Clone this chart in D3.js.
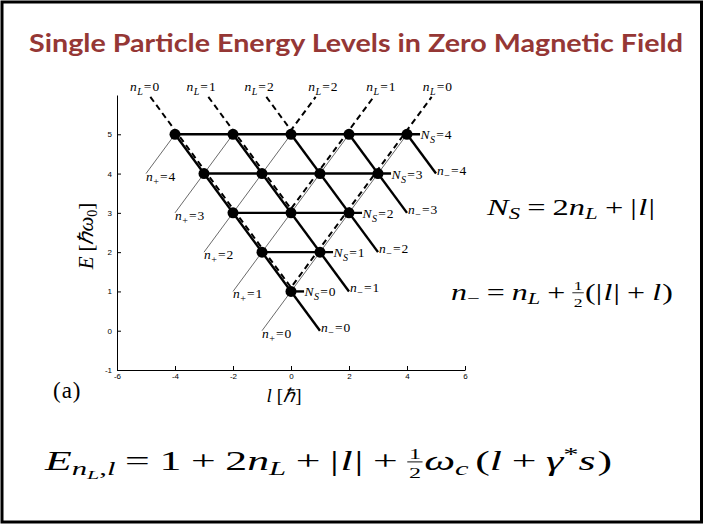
<!DOCTYPE html>
<html>
<head>
<meta charset="utf-8">
<script src="https://cdn.jsdelivr.net/npm/d3@7"></script>
<style>
  body { margin: 0; background: #fff; }
  svg { display: block; }
</style>
</head>
<body>
<div id="plot"></div>
<script>
// ---- data ----
var xTicks = [-6, -4, -2, 0, 2, 4, 6];
var yTicks = [-1, 0, 1, 2, 3, 4, 5];

// filled dots (l, E)
var dotL = [0, -1, 1, -2, 0, 2, -3, -1, 1, 3, -4, -2, 0, 2, 4];
var dotE = [1, 2, 2, 3, 3, 3, 4, 4, 4, 4, 5, 5, 5, 5, 5];

// horizontal N_S rows
var nsValues = [0, 1, 2, 3, 4];
var nsRowE = [1, 2, 3, 4, 5];
var nsStartL = [0, -1, -2, -3, -4];
var nsEndL = [0.45, 1.45, 2.45, 3.45, 4.45];

// thick n_- lines
var nMinusValues = [0, 1, 2, 3, 4];
var nMinusStartL = [-4, -2, 0, 2, 4];
var nMinusStartE = [5, 5, 5, 5, 5];
var nMinusEndL = [1, 2, 3, 4, 5];
var nMinusEndE = [0, 1, 2, 3, 4];

// thin n_+ lines
var nPlusValues = [0, 1, 2, 3, 4];
var nPlusStartL = [4, 2, 0, -2, -4];
var nPlusStartE = [5, 5, 5, 5, 5];
var nPlusEndL = [-1, -2, -3, -4, -5];
var nPlusEndE = [0, 1, 2, 3, 4];

// dashed n_L "V" lines
var nLValues = [0, 1, 2];
var nLTopL = [4.85, 2.85, 0.85];
var nLTopE = [5.85, 5.85, 5.85];
var nLVertexE = [1, 3, 5];
var nLLabelL = [5.05, 3.1, 1.1];
var nLLabelE = 6;

// ---- page ----
var W = 704, H = 527;
var svg = d3.select("#plot").append("svg")
    .attr("width", W)
    .attr("height", H);

svg.append("rect")
    .attr("x", 2).attr("y", 2)
    .attr("width", 699.5).attr("height", 520)
    .attr("fill", "#fff")
    .attr("stroke", "#000")
    .attr("stroke-width", 3);

svg.append("text")
    .attr("x", 29).attr("y", 52)
    .attr("font-family", "Lato, 'Open Sans', sans-serif")
    .attr("font-weight", "bold")
    .attr("font-size", 24)
    .attr("fill", "#953735")
    .attr("textLength", 654)
    .attr("lengthAdjust", "spacingAndGlyphs")
    .text("Single Particle Energy Levels in Zero Magnetic Field");

// ---- scales & axes ----
var x = d3.scaleLinear().domain([-6, 6]).range([117, 465]);
var y = d3.scaleLinear().domain([-1, 6]).range([370, 95]);

var xAxis = svg.append("g")
    .attr("transform", `translate(0, ${y(-1)})`)
    .call(d3.axisBottom(x).tickValues(xTicks).tickFormat(d3.format("d"))
        .tickSizeInner(-4).tickSizeOuter(0).tickPadding(3));
var yAxis = svg.append("g")
    .attr("transform", `translate(${x(-6)}, 0)`)
    .call(d3.axisLeft(y).tickValues(yTicks).tickFormat(d3.format("d"))
        .tickSizeInner(-4).tickSizeOuter(0).tickPadding(5));

[xAxis, yAxis].forEach(function (ax) {
    ax.selectAll("text")
        .attr("font-family", "'Liberation Sans', Arial, sans-serif")
        .attr("font-size", 8)
        .attr("fill", "#000")
        .text(function (d) { return d < 0 ? "-" + Math.abs(d) : d; });
    ax.select(".domain").attr("stroke-width", 1);
});

var chart = svg.append("g").attr("font-family", "'Liberation Serif', serif");

// thin n_+ lines
chart.selectAll(".nplus")
    .data(nPlusValues)
    .enter().append("line")
    .attr("x1", (d, i) => x(nPlusStartL[i]))
    .attr("y1", (d, i) => y(nPlusStartE[i]))
    .attr("x2", (d, i) => x(nPlusEndL[i]))
    .attr("y2", (d, i) => y(nPlusEndE[i]))
    .attr("stroke", "#444")
    .attr("stroke-width", 0.8);

// thick n_- lines
chart.selectAll(".nminus")
    .data(nMinusValues)
    .enter().append("line")
    .attr("x1", (d, i) => x(nMinusStartL[i]))
    .attr("y1", (d, i) => y(nMinusStartE[i]))
    .attr("x2", (d, i) => x(nMinusEndL[i]))
    .attr("y2", (d, i) => y(nMinusEndE[i]))
    .attr("stroke", "#000")
    .attr("stroke-width", 2.4);

// horizontal N_S rows
chart.selectAll(".ns")
    .data(nsValues)
    .enter().append("line")
    .attr("x1", (d, i) => x(nsStartL[i]))
    .attr("x2", (d, i) => x(nsEndL[i]))
    .attr("y1", (d, i) => y(nsRowE[i]))
    .attr("y2", (d, i) => y(nsRowE[i]))
    .attr("stroke", "#000")
    .attr("stroke-width", 2.4);

// dashed n_L lines, nudged up a little so they sit beside the solid ones
var vLine = d3.line().x(d => x(d[0])).y(d => y(d[1]));
chart.selectAll(".nl")
    .data(nLValues)
    .enter().append("path")
    .attr("transform", "translate(0,-4)")
    .attr("d", (d, i) => vLine([[-nLTopL[i], nLTopE[i]], [0, nLVertexE[i]], [nLTopL[i], nLTopE[i]]]))
    .attr("fill", "none")
    .attr("stroke", "#000")
    .attr("stroke-width", 2)
    .attr("stroke-dasharray", "6,4");

// dots
chart.selectAll("circle")
    .data(dotL)
    .enter().append("circle")
    .attr("cx", d => x(d))
    .attr("cy", (d, i) => y(dotE[i]))
    .attr("r", 5.5)
    .attr("fill", "#000");

// small "sym_sub=val" label
function subLabel(sel, sym, sub, val, fs) {
    sel.attr("font-size", fs);
    sel.append("tspan").attr("font-style", "italic").text(sym);
    sel.append("tspan").attr("font-style", sub === "L" || sub === "S" ? "italic" : "normal")
        .attr("font-size", fs * 0.75).attr("dx", 0.5).attr("dy", fs * 0.3).text(sub);
    sel.append("tspan").attr("dx", 1).attr("dy", -fs * 0.3).text("=");
    sel.append("tspan").attr("dx", 1).text(val);
}

nLValues.forEach(function (v, i) {
    [-1, 1].forEach(function (s) {
        var t = chart.append("text")
            .attr("x", x(s * nLLabelL[i]))
            .attr("y", y(nLLabelE) - 4)
            .attr("text-anchor", "middle");
        subLabel(t, "n", "L", v, 13.5);
    });
});

nsValues.forEach(function (v, i) {
    var t = chart.append("text")
        .attr("x", x(nsEndL[i]) + 0.5)
        .attr("y", y(nsRowE[i]) + 5);
    subLabel(t, "N", "S", v, 13.5);
});

nMinusValues.forEach(function (v, i) {
    var t = chart.append("text")
        .attr("x", x(nMinusEndL[i]) + 1)
        .attr("y", y(nMinusEndE[i]) + 1);
    subLabel(t, "n", "\u2212", v, 13.5);
});

nPlusValues.forEach(function (v, i) {
    var t = chart.append("text")
        .attr("x", x(nPlusEndL[i]))
        .attr("y", y(nPlusEndE[i]) + 7);
    subLabel(t, "n", "+", v, 13.5);
});

// axis titles
var yl = svg.append("text")
    .attr("transform", `translate(93, 236) rotate(-90)`)
    .attr("text-anchor", "middle")
    .attr("font-family", "'Liberation Serif', serif")
    .attr("font-size", 21);
yl.append("tspan").attr("font-style", "italic").text("E");
yl.append("tspan").attr("dx", 5).text("[");
yl.append("tspan").attr("font-style", "italic").text("\u210F\u03C9");
yl.append("tspan").attr("font-size", 14).attr("dy", 4).text("0");
yl.append("tspan").attr("dy", -4).text("]");

var xl = svg.append("text")
    .attr("x", 284).attr("y", 402)
    .attr("text-anchor", "middle")
    .attr("font-family", "'Liberation Serif', serif")
    .attr("font-size", 19);
xl.append("tspan").attr("font-style", "italic").text("l");
xl.append("tspan").attr("dx", 5).text("[");
xl.append("tspan").attr("font-style", "italic").text("\u210F");
xl.append("tspan").text("]");

svg.append("text")
    .attr("x", 53).attr("y", 398)
    .attr("font-family", "'Liberation Serif', serif")
    .attr("font-size", 23)
    .attr("letter-spacing", 1)
    .text("(a)");

// ---- formulas, laid out piece by piece then stretched to the reference width ----
function drawMath(x0, y0, size, items, width) {
    var g = svg.append("g")
        .attr("font-family", "'Liberation Serif', serif")
        .attr("fill", "#000");
    var cx = 0;
    items.forEach(function (it) {
        if (it.frac) {
            var fs = size * 0.55;
            var n = g.append("text").attr("x", cx + 1).attr("y", -size * 0.4)
                .attr("font-size", fs).text("1");
            var w = n.node().getComputedTextLength();
            g.append("text").attr("x", cx + 1).attr("y", size * 0.3)
                .attr("font-size", fs).text("2");
            g.append("line")
                .attr("x1", cx).attr("x2", cx + w + 2)
                .attr("y1", -size * 0.3).attr("y2", -size * 0.3)
                .attr("stroke", "#000").attr("stroke-width", size * 0.035);
            cx += w + 3;
            return;
        }
        cx += (it.pre || 0) * size;
        var t = g.append("text")
            .attr("x", cx)
            .attr("y", (it.dy || 0) * size)
            .attr("font-size", size * (it.s || 1))
            .attr("font-style", it.i ? "italic" : "normal")
            .text(it.t);
        cx += t.node().getComputedTextLength() + (it.post || 0) * size;
    });
    var k = width ? width / cx : 1;
    g.attr("transform", `translate(${x0}, ${y0}) scale(${k}, 1)`);
}

var sp = 0.22;
drawMath(487, 215, 24, [
    { t: "N", i: 1 }, { t: "S", i: 1, s: 0.7, dy: 0.18 },
    { t: "=", pre: sp, post: sp }, { t: "2" }, { t: "n", i: 1 }, { t: "L", i: 1, s: 0.7, dy: 0.18 },
    { t: "+", pre: sp, post: sp }, { t: "|" }, { t: "l", i: 1, pre: 0.04 }, { t: "|", pre: 0.04 }
], 168);

drawMath(451, 300, 24, [
    { t: "n", i: 1 }, { t: "\u2212", s: 0.7, dy: 0.18 },
    { t: "=", pre: sp, post: sp }, { t: "n", i: 1 }, { t: "L", i: 1, s: 0.7, dy: 0.18 },
    { t: "+", pre: sp, post: sp }, { frac: 1 }, { t: "(" }, { t: "|" }, { t: "l", i: 1, pre: 0.04 }, { t: "|", pre: 0.04 },
    { t: "+", pre: sp, post: sp }, { t: "l", i: 1 }, { t: ")", pre: 0.04 }
], 222);

drawMath(45, 470, 27, [
    { t: "E", i: 1 }, { t: "n", i: 1, s: 0.7, dy: 0.2 }, { t: "L", i: 1, s: 0.5, dy: 0.32 },
    { t: ",", s: 0.7, dy: 0.2 }, { t: "l", i: 1, s: 0.7, dy: 0.2 },
    { t: "=", pre: sp, post: sp }, { t: "1" },
    { t: "+", pre: sp, post: sp }, { t: "2" }, { t: "n", i: 1 }, { t: "L", i: 1, s: 0.7, dy: 0.18 },
    { t: "+", pre: sp, post: sp }, { t: "|" }, { t: "l", i: 1, pre: 0.04 }, { t: "|", pre: 0.04 },
    { t: "+", pre: sp, post: sp }, { frac: 1 }, { t: "\u03C9", i: 1 }, { t: "c", i: 1, s: 0.7, dy: 0.18 },
    { t: "(", pre: 0.15 }, { t: "l", i: 1 },
    { t: "+", pre: sp, post: sp }, { t: "\u03B3", i: 1 }, { t: "*", s: 0.7, dy: -0.35 }, { t: "s", i: 1 }, { t: ")", pre: 0.04 }
], 567);
</script>
</body>
</html>
